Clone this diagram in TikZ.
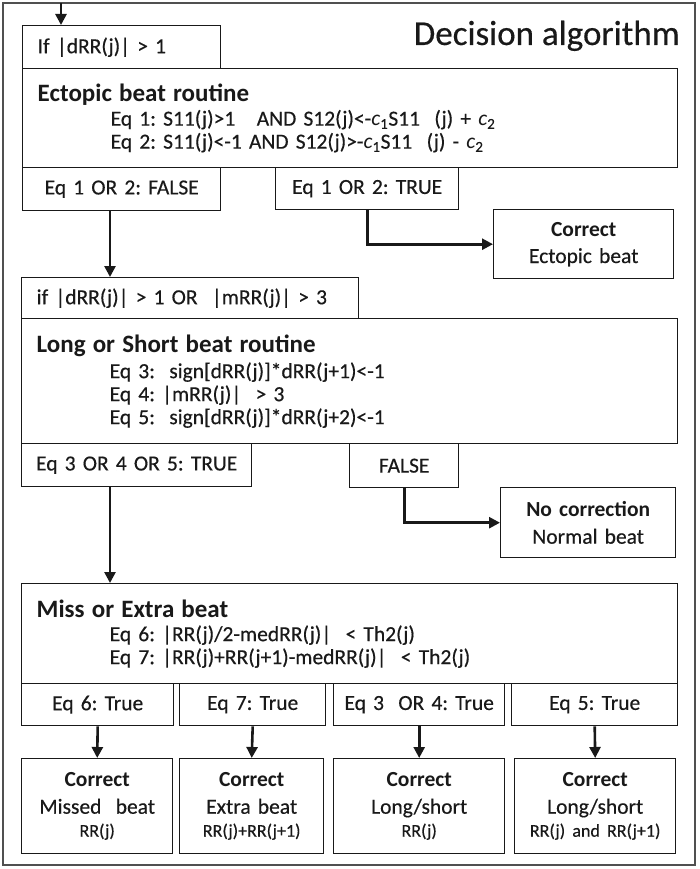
\documentclass[tikz,border=0pt]{standalone}
\usepackage{fontspec}
\setmainfont{Carlito}[UprightFeatures={FakeBold=0.4}]
\usetikzlibrary{arrows.meta}
\definecolor{linecolor}{RGB}{25,25,25}
\definecolor{framecolor}{RGB}{80,80,80}
\newcommand{\boxfont}{\frenchspacing\fontsize{21.5}{23}\selectfont}
\newcommand{\resfont}{\frenchspacing\fontsize{21.5}{27}\selectfont}
\newcommand{\headfont}{\fontsize{25}{27}\selectfont\bfseries}
\newcommand{\smallres}{\fontsize{18}{20}\selectfont}
\newcommand{\cconst}[1]{\textit{c}\textsubscript{#1}}
\tikzstyle{arrow} = [line width=2.6pt,->,>={Triangle[length=11pt,width=11pt]},draw=linecolor]
\tikzstyle{box} = [rectangle, draw=linecolor, line width=1.4pt, anchor=north west, inner xsep=15pt, inner ysep=0pt, font=\boxfont, text=linecolor]
\tikzstyle{routine} = [box, align=left]
\tikzstyle{cond} = [box, align=center, inner xsep=4pt]
\tikzstyle{result} = [box, align=center, inner xsep=4pt, font=\resfont]

\begin{document}
\begin{tikzpicture}[x=1pt, y=-1pt]
\useasboundingbox (0,0) rectangle (700,869);

% Frame and title
\draw[framecolor, line width=1.6pt] (3,3) rectangle (695,865);
\node[anchor=base east, inner sep=0pt, font=\fontsize{35}{40}\selectfont, text=linecolor] (title) at (680,45) {Decision algorithm};

% Ectopic beat routine
\node[routine, text width=168pt, minimum height=43pt] (ifdrr) at (22,25) {If |dRR(j)| > 1};
\node[routine, text width=625pt, minimum height=99pt] (ectopic) at (22,68) {{\headfont Ectopic beat routine}\\[1pt]
\hspace*{73pt}Eq 1: S11(j)>1~~ AND S12(j)<-\cconst{1}S11~ (j) + \cconst{2}\\
\hspace*{73pt}Eq 2: S11(j)<-1 AND S12(j)>-\cconst{1}S11~ (j) - \cconst{2}};
\node[cond, text width=190pt, minimum height=43pt] (efalse) at (22,167) {Eq 1 OR 2: FALSE};
\node[cond, text width=175pt, minimum height=42pt] (etrue) at (275,167) {Eq 1 OR 2: TRUE};
\node[result, text width=172pt, minimum height=69pt] (ecorr) at (493,209) {\textbf{Correct}\\Ectopic beat};

% Long or short beat routine
\node[routine, text width=307pt, minimum height=41pt] (lsif) at (21,277) {if |dRR(j)| > 1 OR~ |mRR(j)| > 3};
\node[routine, text width=626pt, minimum height=125pt] (longshort) at (21,318) {{\headfont Long or Short beat routine}\\[3pt]
\hspace*{73pt}Eq 3:~ sign[dRR(j)]*dRR(j+1)<-1\\
\hspace*{73pt}Eq 4: |mRR(j)|~ > 3\\
\hspace*{73pt}Eq 5:~ sign[dRR(j)]*dRR(j+2)<-1};
\node[cond, text width=222pt, minimum height=43pt] (ltrue) at (21,443) {Eq 3 OR 4 OR 5: TRUE};
\node[cond, text width=101pt, minimum height=44pt] (lfalse) at (349,443) {FALSE};
\node[result, text width=167pt, minimum height=70pt] (nocorr) at (500,487) {\textbf{No correction}\\Normal beat};

% Miss or extra beat
\node[routine, text width=626pt, minimum height=100pt] (miss) at (21,583) {{\headfont Miss or Extra beat}\\[1pt]
\hspace*{73pt}Eq 6: |RR(j)/2-medRR(j)|~ < Th2(j)\\
\hspace*{73pt}Eq 7: |RR(j)+RR(j+1)-medRR(j)|~ < Th2(j)};
\node[cond, text width=144pt, minimum height=42pt] (csix) at (21,683) {Eq 6: True};
\node[cond, text width=138pt, minimum height=42pt] (cseven) at (179,683) {Eq 7: True};
\node[cond, text width=163pt, minimum height=42pt] (cthree) at (333,683) {Eq 3~ OR 4: True};
\node[cond, text width=158pt, minimum height=42pt] (cfive) at (511,683) {Eq 5: True};
\node[result, text width=143pt, minimum height=95pt] (rsix) at (21,758) {\textbf{Correct}\\Missed~ beat\\[-4pt]{\smallres RR(j)}};
\node[result, text width=136pt, minimum height=95pt] (rseven) at (179,758) {\textbf{Correct}\\Extra beat\\[-4pt]{\smallres RR(j)+RR(j+1)}};
\node[result, text width=163pt, minimum height=95pt] (rthree) at (333,758) {\textbf{Correct}\\Long/short\\[-4pt]{\smallres RR(j)}};
\node[result, text width=153pt, minimum height=95pt] (rfive) at (514,758) {\textbf{Correct}\\Long/short\\[-4pt]{\smallres RR(j) and RR(j+1)}};

% Arrows
\coordinate (entry) at (61,3);
\coordinate (colA) at (110,0);
\draw[arrow] (entry) -- (entry |- ifdrr.north);
\draw[arrow] (efalse.south -| colA) -- (lsif.north -| colA);
\draw[arrow] (etrue.south) |- (ecorr.west);
\draw[arrow] (ltrue.south -| colA) -- (miss.north -| colA);
\draw[arrow] (lfalse.south) |- (nocorr.west);
\draw[arrow] (csix.south) -- (rsix.north);
\draw[arrow] (cseven.south) -- (rseven.north);
\draw[arrow] (cthree.south) -- (rthree.north);
\draw[arrow] (cfive.south) -- (rfive.north);

\end{tikzpicture}
\end{document}
